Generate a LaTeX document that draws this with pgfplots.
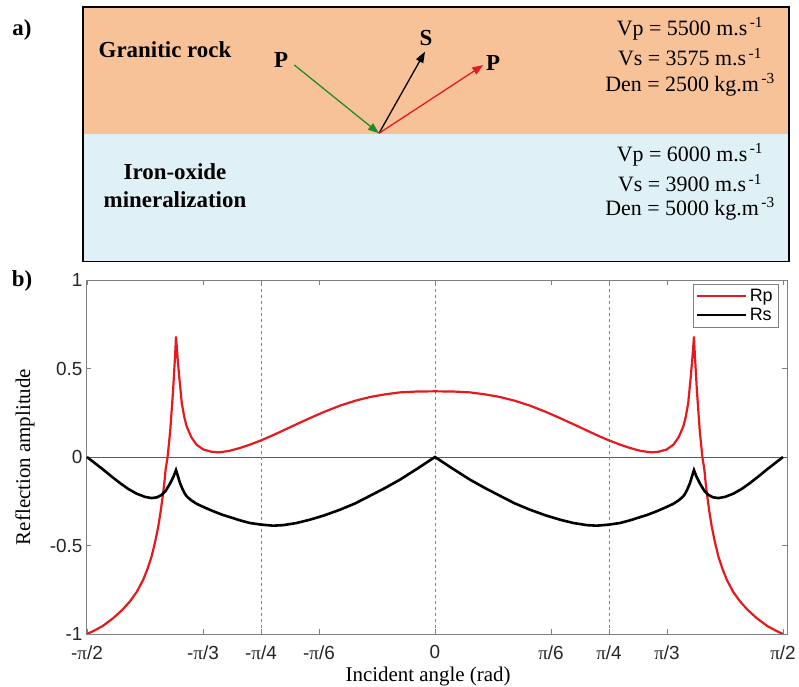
\documentclass[border=0pt]{standalone}
\usepackage{fontspec}
\setmainfont{Liberation Serif}
\newfontfamily\sansf{Liberation Sans}
\usepackage{pgfplots}
\pgfplotsset{compat=1.18}
\usetikzlibrary{arrows.meta}
\definecolor{rock}{RGB}{247,194,152}
\definecolor{ore}{RGB}{223,240,247}
\definecolor{rpred}{RGB}{230,25,30}
\definecolor{pgreen}{RGB}{30,140,40}
\definecolor{zline}{RGB}{65,85,190}
\definecolor{dline}{RGB}{115,125,210}
\newcommand\p{{\rmfamily π}}
\begin{document}
\begin{tikzpicture}[x=1bp,y=1bp]
\useasboundingbox (0,0) rectangle (799,687);
% ---- panel a ----
\fill[rock] (82.7,552.7) rectangle (789,679.7);
\fill[ore] (82.7,425.3) rectangle (789,552.7);
\draw[line width=1.6bp] (82.7,425.3) rectangle (789,679.7);
\node[font=\fontsize{23}{23}\selectfont\bfseries] at (22,657) {a)};
\node[font=\fontsize{23}{23}\selectfont\bfseries] at (22,406) {b)};
\node[font=\fontsize{23}{23}\selectfont\bfseries] at (165,637) {Granitic rock};
\node[font=\fontsize{23}{28}\selectfont\bfseries,align=center] at (175,501) {Iron-oxide\\mineralization};
\draw[pgreen,line width=1.3bp,-{Triangle[length=11bp,width=8bp]}] (294.3,622) -- (379,553.7);
\draw[black,line width=1.3bp,-{Triangle[length=11bp,width=8bp]}] (379,553.7) -- (425,635.3);
\draw[rpred,line width=1.3bp,-{Triangle[length=11bp,width=8bp]}] (379,553.7) -- (483.3,622);
\node[font=\fontsize{23}{23}\selectfont\bfseries] at (281,627) {P};
\node[font=\fontsize{23}{23}\selectfont\bfseries] at (426,649) {S};
\node[font=\fontsize{23}{23}\selectfont\bfseries] at (493,624) {P};
\begin{scope}[every node/.style={font=\fontsize{22}{22}\selectfont}]
\node at (690,658) {Vp = 5500 m.s\textsuperscript{\,-1}};
\node at (690,630) {Vs = 3575 m.s\textsuperscript{\,-1}};
\node at (690,602) {Den = 2500 kg.m\textsuperscript{\,-3}};
\node at (690,532) {Vp = 6000 m.s\textsuperscript{\,-1}};
\node at (690,504) {Vs = 3900 m.s\textsuperscript{\,-1}};
\node at (690,478) {Den = 5000 kg.m\textsuperscript{\,-3}};
\end{scope}
% ---- panel b ----
\begin{axis}[
  at={(86bp,53bp)}, anchor=south west,
  width=701bp, height=354bp, scale only axis,
  xmin=-1.5753, xmax=1.589, ymin=-1, ymax=1,
  xtick={-1.5708,-1.0472,-0.7854,-0.5236,0,0.5236,0.7854,1.0472,1.5708},
  xticklabels={-\p/2,-\p/3,-\p/4,-\p/6,0,\p/6,\p/4,\p/3,\p/2},
  ytick={-1,-0.5,0,0.5,1},
  yticklabels={-1,-0.5,0,0.5,1},
  /pgf/number format/assume math mode=true,
  tick label style={font=\sansf\fontsize{19}{19}\selectfont, text=black!85},
  xticklabel style={yshift=-8bp},
  axis line style={draw=gray},
  every tick/.style={gray},
  major tick length=5bp,
  xlabel={Incident angle (rad)},
  ylabel={Reflection amplitude},
  label style={font=\fontsize{21}{21}\selectfont},
  xlabel style={at={(axis description cs:0.488,-0.12)},anchor=center},
  ylabel style={at={(axis description cs:-0.087,0.5)},anchor=center},
  legend style={at={(axis description cs:0.987,0.989)}, anchor=north east, draw=gray,
    font=\sansf\fontsize{18}{18}\selectfont, cells={anchor=west}, inner sep=3bp, row sep=1bp},
  legend image code/.code={\draw[#1] (0bp,0bp) -- (49bp,0bp);},
]
\addplot[zline, line width=0.8bp, forget plot] coordinates {(-1.5753,0) (1.589,0)};
\addplot[dline, dash pattern=on 3bp off 3bp, line width=0.8bp, forget plot] coordinates {(-0.7854,-1) (-0.7854,1)};
\addplot[dline, dash pattern=on 3bp off 3bp, line width=0.8bp, forget plot] coordinates {(0,-1) (0,1)};
\addplot[dline, dash pattern=on 3bp off 3bp, line width=0.8bp, forget plot] coordinates {(0.7854,-1) (0.7854,1)};
\addplot[rpred, line width=2.2bp] coordinates {
(-1.5708,-1.000) (-1.54,-0.982) (-1.50,-0.955) (-1.452,-0.910) (-1.41,-0.862)
(-1.377,-0.816) (-1.345,-0.760) (-1.317,-0.693) (-1.297,-0.630) (-1.279,-0.561)
(-1.263,-0.478) (-1.249,-0.392) (-1.238,-0.305) (-1.229,-0.222) (-1.222,-0.150)
(-1.216,-0.072) (-1.207,0.000) (-1.195,0.150) (-1.182,0.380) (-1.172,0.600)
(-1.169,0.681) (-1.162,0.560) (-1.155,0.460) (-1.148,0.370) (-1.143,0.305)
(-1.132,0.228) (-1.121,0.173) (-1.100,0.112) (-1.076,0.069) (-1.045,0.042)
(-1.010,0.030) (-0.978,0.026) (-0.930,0.034) (-0.880,0.051) (-0.835,0.070)
(-0.785,0.094) (-0.735,0.121) (-0.685,0.150) (-0.625,0.185) (-0.564,0.220)
(-0.500,0.255) (-0.429,0.290) (-0.360,0.318) (-0.293,0.339) (-0.225,0.354)
(-0.158,0.365) (-0.080,0.370) (0,0.371)
(0.080,0.370) (0.158,0.365) (0.225,0.354) (0.293,0.339) (0.360,0.318)
(0.429,0.290) (0.500,0.255) (0.564,0.220) (0.625,0.185) (0.685,0.150)
(0.735,0.121) (0.785,0.094) (0.835,0.070) (0.880,0.051) (0.930,0.034)
(0.978,0.026) (1.010,0.030) (1.045,0.042) (1.076,0.069) (1.100,0.112)
(1.121,0.173) (1.132,0.228) (1.143,0.305) (1.148,0.370) (1.155,0.460)
(1.162,0.560) (1.169,0.681) (1.172,0.600) (1.182,0.380) (1.195,0.150)
(1.207,0.000) (1.216,-0.072) (1.222,-0.150) (1.229,-0.222) (1.238,-0.305)
(1.249,-0.392) (1.263,-0.478) (1.279,-0.561) (1.297,-0.630) (1.317,-0.693)
(1.345,-0.760) (1.377,-0.816) (1.41,-0.862) (1.452,-0.910) (1.50,-0.955)
(1.54,-0.982) (1.5708,-1.000)
};
\addlegendentry{Rp}
\addplot[black, line width=2.6bp] coordinates {
(-1.5708,0) (-1.535,-0.035) (-1.497,-0.072) (-1.46,-0.110) (-1.422,-0.147)
(-1.385,-0.180) (-1.347,-0.207) (-1.31,-0.225) (-1.280,-0.232) (-1.255,-0.228)
(-1.235,-0.215) (-1.215,-0.190) (-1.196,-0.150) (-1.180,-0.110) (-1.169,-0.074)
(-1.160,-0.110) (-1.151,-0.147) (-1.140,-0.180) (-1.130,-0.205) (-1.121,-0.222)
(-1.100,-0.245) (-1.075,-0.265) (-1.046,-0.282) (-1.000,-0.307) (-0.956,-0.328)
(-0.925,-0.340) (-0.880,-0.358) (-0.835,-0.373) (-0.785,-0.382) (-0.730,-0.388)
(-0.685,-0.385) (-0.625,-0.373) (-0.564,-0.354) (-0.500,-0.330) (-0.429,-0.298)
(-0.360,-0.262) (-0.293,-0.219) (-0.225,-0.175) (-0.158,-0.128) (-0.080,-0.066)
(0,0)
(0.080,-0.066) (0.158,-0.128) (0.225,-0.175) (0.293,-0.219) (0.360,-0.262)
(0.429,-0.298) (0.500,-0.330) (0.564,-0.354) (0.625,-0.373) (0.685,-0.385)
(0.730,-0.388) (0.785,-0.382) (0.835,-0.373) (0.880,-0.358) (0.925,-0.340)
(0.956,-0.328) (1.000,-0.307) (1.046,-0.282) (1.075,-0.265) (1.100,-0.245)
(1.121,-0.222) (1.130,-0.205) (1.140,-0.180) (1.151,-0.147) (1.160,-0.110)
(1.169,-0.074) (1.180,-0.110) (1.196,-0.150) (1.215,-0.190) (1.235,-0.215)
(1.255,-0.228) (1.280,-0.232) (1.31,-0.225) (1.347,-0.207) (1.385,-0.180)
(1.422,-0.147) (1.46,-0.110) (1.497,-0.072) (1.535,-0.035) (1.5708,0)
};
\addlegendentry{Rs}
\end{axis}
\end{tikzpicture}
\end{document}
